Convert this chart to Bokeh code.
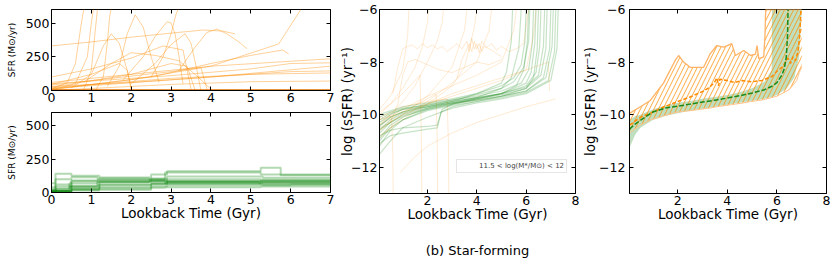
from bokeh.plotting import figure
from bokeh.layouts import row, column
from bokeh.models import Range1d, FixedTicker, LinearAxis, Legend, LegendItem
from bokeh.embed import file_html
from bokeh.resources import INLINE

FONT = "DejaVu Sans"
ORANGE = "#ff8c00"
GREEN = "#008000"

# ---------------- data ----------------
# top-left: SFR histories (orange sample), lookback time [Gyr] / SFR [Msun/yr]
sfr_orange_t = [
    [0.0, 1.0, 2.0, 3.0, 3.8, 4.3, 4.6],
    [3.2, 3.6, 3.9, 4.15, 4.4, 4.7, 4.9],
    [0.0, 0.4, 0.6, 0.75, 0.82],
    [0.0, 0.6, 0.9, 1.0, 1.06],
    [0.8, 1.0, 1.1, 1.16],
    [1.1, 1.3, 1.4, 1.46, 1.5],
    [0.5, 1.0, 1.3, 1.5, 1.7, 1.9, 2.0],
    [1.4, 1.7, 1.9, 2.1, 2.3, 2.5, 2.7],
    [1.8, 2.3, 2.6, 2.9, 3.0, 3.1, 3.2, 3.3],
    [2.5, 2.8, 3.0, 3.12, 3.2],
    [2.0, 2.6, 3.0, 3.35, 3.5, 3.65, 3.75],
    [0.8, 1.5, 2.0, 2.6, 3.2, 3.6, 4.0],
    [0.0, 2.0, 4.0, 6.0, 7.0],
    [0.0, 2.0, 4.0, 5.7, 6.3],
    [0.0, 3.0, 5.0, 6.0, 7.0],
    [0.0, 1.5, 3.0, 3.75, 3.9],
    [0.0, 2.5, 4.0, 5.0, 5.8, 5.95],
    [0.0, 3.0, 5.0, 7.0],
    [0.0, 1.0, 2.0, 2.8, 3.3, 3.5],
    [0.0, 1.0, 2.0, 3.0, 4.0, 5.0, 6.0, 7.0],
    [0.0, 2.0, 4.0, 7.0],
    [0.0, 1.0, 1.7, 1.9, 2.0],
    [0.0, 2.0, 3.0, 3.4, 3.6],
    [0.0, 4.0, 7.0],
]
sfr_orange_v = [
    [330, 360, 395, 425, 448, 440, 420],
    [150, 320, 430, 455, 420, 360, 310],
    [10, 60, 200, 500, 620],
    [5, 50, 250, 500, 620],
    [0, 150, 450, 620],
    [0, 100, 350, 550, 620],
    [20, 120, 330, 420, 350, 150, 20],
    [30, 180, 420, 560, 470, 250, 60],
    [80, 250, 400, 510, 500, 420, 250, 50],
    [100, 250, 420, 560, 620],
    [50, 200, 340, 420, 350, 150, 0],
    [60, 200, 280, 260, 220, 120, 10],
    [30, 60, 100, 140, 145],
    [10, 80, 180, 345, 620],
    [50, 110, 160, 200, 205],
    [40, 90, 140, 170, 10],
    [5, 100, 200, 260, 300, 270],
    [20, 90, 120, 130],
    [100, 160, 240, 330, 300, 10],
    [0, 15, 30, 45, 55, 65, 68, 70],
    [60, 120, 180, 235],
    [45, 120, 200, 150, 5],
    [25, 120, 200, 180, 5],
    [15, 100, 180],
]
sfr_floor_t = [0.0, 7.0]
sfr_floor_v = [2, 2]

# bottom-left: binned SFR histories (green sample)
sfr_green_edges = [
    [0, 0.1, 0.5, 1.2, 2.5, 2.9, 5.25, 5.75, 7],
    [0, 0.1, 0.5, 1.15, 2.45, 2.85, 5.25, 7],
    [0, 0.12, 0.5, 1.15, 2.5, 2.9, 5.3, 7],
    [0, 0.1, 0.45, 1.2, 2.5, 2.85, 5.25, 7],
    [0, 0.5, 1.2, 2.5, 2.9, 5.2, 7],
    [0, 0.1, 0.5, 1.15, 2.45, 2.9, 5.25, 7],
    [0, 0.45, 1.15, 2.45, 2.85, 5.25, 7],
    [0, 0.1, 0.5, 1.2, 2.5, 2.9, 5.3, 7],
    [0, 0.1, 0.5, 1.2, 2.5, 2.85, 5.25, 7],
    [0, 0.1, 0.45, 1.15, 2.5, 2.9, 5.25, 7],
    [0, 0.5, 1.2, 2.5, 2.9, 6.0, 7],
    [0, 0.1, 0.5, 1.15, 2.45, 2.85, 5.25, 7],
]
sfr_green_vals = [
    [70, 140, 125, 112, 135, 160, 185, 130],
    [20, 100, 115, 105, 100, 150, 135],
    [10, 30, 90, 95, 105, 120, 110],
    [5, 15, 40, 80, 90, 85, 90],
    [10, 30, 60, 70, 75, 70],
    [15, 45, 85, 90, 95, 85, 80],
    [25, 70, 75, 85, 70, 75],
    [5, 10, 25, 30, 60, 65, 60],
    [2, 8, 15, 20, 35, 40, 45],
    [40, 60, 50, 55, 65, 100, 95],
    [10, 20, 40, 45, 55, 60],
    [8, 12, 45, 80, 85, 80, 85],
]

# middle: log sSFR tracks
ssfr_green_t = [
    [0.06, 0.5, 1, 2, 3, 4, 5, 5.5, 5.8, 5.95, 6.0],
    [0.06, 0.5, 1, 2, 3, 4, 5, 5.8, 6.1, 6.25, 6.3],
    [0.06, 0.5, 1, 2, 3, 4, 5, 6, 6.4, 6.55, 6.6],
    [0.06, 0.5, 1, 2, 3, 4, 5, 6, 6.6, 6.8, 6.85],
    [0.06, 0.5, 1, 2, 3, 4, 5, 6, 6.8, 7.05, 7.1],
    [0.06, 0.5, 1, 2, 3, 4, 5, 6, 7.0, 7.25, 7.3],
    [0.06, 0.5, 1, 2, 2.4, 2.6, 3, 4, 5, 5.6, 5.9, 6.05, 6.1],
    [0.06, 0.5, 1, 2, 3, 4, 5, 6, 6.5, 6.7, 6.75],
    [0.06, 0.5, 1, 2, 3, 4, 5, 5.5, 5.9, 6.1, 6.15],
    [0.06, 0.5, 1, 2, 3, 4, 5, 6, 6.9, 7.15, 7.2],
    [0.06, 0.5, 1, 2, 3, 4, 5, 5.4, 5.7, 5.8],
    [0.06, 0.5, 1, 2, 2.4, 2.55, 3, 4, 5, 6, 6.3, 6.45, 6.5],
    [0.06, 0.5, 1, 2, 3, 4, 5, 5.2, 5.4, 5.45],
    [0.06, 0.5, 1, 2, 3, 4, 5, 6, 6.7, 6.95, 7.0],
    [0.06, 0.5, 1, 2, 3, 4, 5, 6, 6.2, 6.35, 6.4],
]
ssfr_green_v = [
    [-10.0, -9.85, -9.7, -9.55, -9.4, -9.2, -8.9, -8.6, -8.1, -7.2, -6],
    [-10.3, -10.0, -9.8, -9.6, -9.45, -9.3, -9.1, -8.8, -8.3, -7.3, -6],
    [-10.6, -10.2, -9.95, -9.7, -9.5, -9.35, -9.2, -8.9, -8.4, -7.4, -6],
    [-10.9, -10.4, -10.1, -9.75, -9.55, -9.4, -9.25, -9.0, -8.5, -7.5, -6],
    [-11.2, -10.6, -10.2, -9.8, -9.6, -9.45, -9.3, -9.1, -8.6, -7.4, -6],
    [-11.5, -11.0, -10.5, -10.1, -9.75, -9.55, -9.4, -9.2, -8.7, -7.5, -6],
    [-10.8, -10.6, -10.5, -10.45, -10.4, -9.8, -9.6, -9.4, -9.2, -8.9, -8.3, -7.2, -6],
    [-10.1, -9.9, -9.75, -9.65, -9.5, -9.35, -9.2, -8.95, -8.5, -7.4, -6],
    [-10.45, -10.1, -9.9, -9.65, -9.45, -9.25, -9.0, -8.75, -8.2, -7.2, -6],
    [-11.0, -10.5, -10.2, -9.85, -9.65, -9.5, -9.35, -9.15, -8.7, -7.6, -6],
    [-10.2, -9.95, -9.8, -9.7, -9.55, -9.35, -9.0, -8.6, -7.5, -6],
    [-11.1, -10.8, -10.7, -10.55, -10.5, -9.9, -9.7, -9.5, -9.3, -9.0, -8.6, -7.5, -6],
    [-10.4, -10.1, -9.9, -9.7, -9.5, -9.2, -8.8, -8.4, -7.2, -6],
    [-10.7, -10.3, -10.0, -9.75, -9.55, -9.45, -9.3, -9.1, -8.6, -7.5, -6],
    [-10.55, -10.3, -10.05, -9.8, -9.6, -9.4, -9.2, -8.8, -8.4, -7.3, -6],
]
ssfr_orange_t = [
    [0.6, 0.8, 1.0, 1.2, 1.4, 1.6, 1.8, 2.0, 2.2, 2.4, 2.6, 2.8, 3.0, 3.2, 3.4, 3.6, 3.7,
     3.8, 3.9, 4.0, 4.1, 4.2, 4.4, 4.6, 4.8, 5.0, 5.3, 5.6, 5.9, 6.1],
    [3.2, 3.4, 3.6, 3.7, 3.8, 3.9, 4.0, 4.1, 4.2, 4.3, 4.5, 4.7, 5.0],
    [0.06, 0.5, 1.0, 1.5, 2.0, 2.4, 2.6, 2.65],
    [0.06, 0.5, 1.0, 1.5, 1.8, 2.0, 2.05],
    [0.06, 0.5, 1, 2, 3, 3.5, 3.6],
    [0.06, 1, 2, 3, 3.5, 3.9, 4.0],
    [0.06, 1, 2, 3, 4, 5, 5.5, 5.6],
    [0.06, 1, 2, 3, 4, 5, 6, 6.3, 6.4],
    [0.9, 1.5, 2, 3, 4, 5, 6, 7.2],
    [0.06, 0.4, 0.55, 0.6, 0.62],
    [0.06, 0.5, 1, 1.5, 1.7, 1.75, 1.78],
    [0.06, 1, 2, 2.35, 2.4, 2.42],
    [0.06, 1, 2, 2.8, 2.85, 2.87],
    [0.06, 1, 2, 3, 4, 5, 6, 6.9, 6.95],
    [0.06, 0.5, 1, 1.2, 1.25],
    [0.06, 0.5, 0.8, 1.0, 1.2, 1.5, 2.0, 2.5, 3, 3.5, 4, 4.5, 5],
    [0.06, 0.5, 1, 2, 3, 4, 4.5, 4.6],
]
ssfr_orange_v = [
    [-9.2, -8.2, -7.5, -7.4, -7.35, -7.5, -7.3, -7.45, -7.35, -7.5, -7.4, -7.6, -7.45, -7.3,
     -7.5, -7.2, -7.6, -7.1, -7.5, -7.3, -7.65, -7.2, -7.45, -7.3, -7.55, -7.4, -7.6, -7.5, -7.3, -6],
    [-8.6, -7.9, -7.5, -7.3, -7.6, -7.2, -7.5, -7.3, -7.6, -7.4, -7.5, -7.6, -7.8],
    [-10.4, -10.0, -9.5, -8.9, -8.0, -7.2, -6.5, -6],
    [-10.0, -9.6, -9.0, -8.2, -7.4, -6.5, -6],
    [-10.6, -10.3, -10.0, -9.3, -8.2, -6.8, -6],
    [-10.8, -10.2, -9.6, -8.9, -8.2, -6.7, -6],
    [-10.3, -9.8, -9.3, -8.9, -8.5, -8.0, -6.8, -6],
    [-10.2, -9.9, -9.6, -9.3, -9.0, -8.7, -8.3, -7, -6],
    [-12.2, -11.6, -11.2, -10.7, -10.3, -10.0, -9.7, -9.4],
    [-10.2, -10.0, -10.1, -11.5, -13.5],
    [-9.9, -9.6, -9.2, -8.7, -8.5, -10.5, -13.5],
    [-10.4, -9.9, -9.4, -9.2, -11, -13.5],
    [-10.1, -9.7, -9.5, -9.4, -11, -13.5],
    [-10.5, -10.0, -9.6, -9.2, -8.9, -8.6, -8.3, -8.0, -9.1],
    [-9.8, -9.3, -8.3, -7.0, -6],
    [-10.6, -10.3, -9.6, -8.5, -8.0, -7.9, -8.1, -8.3, -8.4, -8.2, -8.0, -8.1, -7.9],
    [-10.9, -10.5, -10.1, -9.5, -8.8, -8.0, -6.8, -6],
]
legend_label = "11.5 < log(M*/M\u2299) < 12"

# right: median tracks and spreads
orange_band_t = [0.06, 0.5, 0.9, 1.43, 1.9, 2.04, 2.24, 2.5, 3.05, 3.3, 3.58, 3.86, 4.18, 4.33,
                 4.67, 4.94, 5.14, 5.2, 5.27, 5.47, 5.52, 5.55, 6.0, 6.5, 6.8, 6.9, 7.0]
orange_band_hi = [-9.95, -9.7, -9.46, -8.8, -7.94, -7.75, -8.0, -8.2, -8.2, -7.7, -7.37, -7.43,
                  -7.3, -7.75, -7.56, -7.75, -7.7, -7.37, -7.87, -7.8, -7.0, -6.0, -6.0, -6.0,
                  -6.0, -6.0, -6.0]
orange_band_lo = [-10.7, -10.4, -10.2, -10.05, -9.92, -9.9, -9.87, -9.85, -9.78, -9.75, -9.7,
                  -9.66, -9.62, -9.6, -9.55, -9.5, -9.48, -9.47, -9.46, -9.43, -9.42, -9.41,
                  -9.3, -9.05, -8.7, -8.4, -8.2]
orange_med_t = [0.06, 0.5, 1.0, 1.43, 2.0, 2.5, 3.05, 3.3, 3.5, 3.58, 3.65, 3.7, 4.0, 4.3, 4.6,
                5.0, 5.4, 5.8, 6.0, 6.2, 6.35, 6.45, 6.55, 6.65, 6.75, 6.85, 6.92, 6.97]
orange_med_v = [-10.4, -10.1, -9.9, -9.71, -9.5, -9.33, -9.1, -8.95, -8.75, -8.6, -8.9, -8.65,
                -8.7, -8.78, -8.7, -8.75, -8.7, -8.55, -8.35, -8.2, -8.0, -7.85, -8.05, -7.8,
                -7.95, -7.6, -7.0, -6.0]
green_band_t = [0.06, 0.3, 0.5, 0.75, 1.0, 1.5, 2.0, 2.5, 3.0, 3.5, 4.0, 4.5, 5.0, 5.5, 5.79,
                5.8, 6.0, 6.4, 6.7, 6.9, 7.0]
green_band_lo = [-11.25, -10.75, -10.5, -10.35, -10.2, -10.05, -9.95, -9.85, -9.78, -9.7, -9.62,
                 -9.55, -9.47, -9.4, -9.33, -9.33, -9.25, -9.0, -8.6, -7.8, -6.0]
green_band_hi = [-10.2, -10.05, -10.0, -9.9, -9.8, -9.65, -9.55, -9.48, -9.4, -9.33, -9.25,
                 -9.15, -9.0, -8.75, -8.3, -6.0, -6.0, -6.0, -6.0, -6.0, -6.0]
green_med_t = [0.06, 0.3, 0.6, 1.0, 1.5, 2.0, 2.5, 3.0, 3.5, 4.0, 4.5, 5.0, 5.5, 5.8, 6.0, 6.2,
               6.3, 6.38, 6.43, 6.45]
green_med_v = [-10.55, -10.35, -10.15, -9.9, -9.75, -9.68, -9.6, -9.52, -9.45, -9.37, -9.28,
               -9.18, -9.05, -8.92, -8.78, -8.5, -8.25, -7.8, -7.0, -6.0]

sfr_xticks = [0, 1, 2, 3, 4, 5, 6, 7]
sfr_yticks = [0, 250, 500]
ssfr_xticks = [2, 4, 6, 8]
ssfr_yticks = [-12, -10, -8, -6]
ssfr_ylabels = {-12: "\u221212", -10: "\u221210", -8: "\u22128", -6: "\u22126"}
caption = "(b) Star-forming"


# ---------------- helpers ----------------
def base_fig(xr, yr, fw, fh, bl, br, bt, bb):
    p = figure(x_range=Range1d(*xr), y_range=Range1d(*yr), frame_width=fw, frame_height=fh,
               min_border_left=bl, min_border_right=br, min_border_top=bt, min_border_bottom=bb,
               output_backend="svg", toolbar_location=None)
    p.xgrid.visible = False
    p.ygrid.visible = False
    p.outline_line_color = "black"
    p.outline_line_width = 1
    p.background_fill_color = "white"
    p.border_fill_color = "white"
    return p


def style_axis(ax, size="12.5px"):
    ax.major_tick_in = 4
    ax.major_tick_out = 0
    ax.minor_tick_in = 0
    ax.minor_tick_out = 0
    ax.major_tick_line_color = "black"
    ax.axis_line_color = "black"
    ax.major_label_text_font = FONT
    ax.major_label_text_font_size = size
    ax.major_label_text_color = "black"
    ax.axis_label_text_font = FONT
    ax.axis_label_text_font_style = "normal"
    ax.axis_label_text_color = "black"


def decorate(p, xticks, yticks, xlabel, ylabel, ylabel_size, ytick_standoff, ylabel_standoff,
             yover=None):
    xa, ya = p.xaxis[0], p.yaxis[0]
    style_axis(xa)
    style_axis(ya)
    xa.ticker = FixedTicker(ticks=xticks)
    ya.ticker = FixedTicker(ticks=yticks)
    xa.major_label_standoff = 2
    ya.major_label_standoff = ytick_standoff
    if xlabel:
        xa.axis_label = xlabel
        xa.axis_label_text_font_size = "13.5px"
        xa.axis_label_standoff = -2
    ya.axis_label = ylabel
    ya.axis_label_text_font_size = ylabel_size
    ya.axis_label_standoff = ylabel_standoff
    if yover:
        ya.major_label_overrides = yover
    top = LinearAxis(ticker=FixedTicker(ticks=xticks))
    right = LinearAxis(ticker=FixedTicker(ticks=yticks))
    for ax in (top, right):
        style_axis(ax)
        ax.major_label_text_font_size = "1px"
        ax.major_label_text_color = None
        ax.major_label_standoff = 0
        ax.axis_line_color = None
    p.add_layout(top, "above")
    p.add_layout(right, "right")


# ---------------- panel 1 ----------------
p1 = base_fig((0, 7), (0, 600), 279, 81, 51, 4, 9, 19)
p1.multi_line(xs=sfr_orange_t, ys=sfr_orange_v, line_color=ORANGE, line_alpha=0.4, line_width=1)
p1.line(sfr_floor_t, sfr_floor_v, line_color="#e07000", line_width=2.2)
decorate(p1, sfr_xticks, sfr_yticks, None, "SFR (M\u2299/yr)", "9px", 2, 6)

# ---------------- panel 2 ----------------
p2 = base_fig((0, 7), (0, 600), 279, 80, 51, 4, 3, 36)
for e, v in zip(sfr_green_edges, sfr_green_vals):
    p2.step(e, v + [v[-1]], mode="after", line_color=GREEN, line_alpha=0.3, line_width=2)
decorate(p2, sfr_xticks, sfr_yticks, "Lookback Time (Gyr)", "SFR (M\u2299/yr)", "9px", 2, 6)

# ---------------- panel 3 ----------------
p3 = base_fig((0.06, 8), (-13, -6), 196, 184, 45, 4, 9, 66)
p3.multi_line(xs=ssfr_orange_t, ys=ssfr_orange_v, line_color=ORANGE, line_alpha=0.18, line_width=1)
p3.multi_line(xs=ssfr_green_t, ys=ssfr_green_v, line_color=GREEN, line_alpha=0.22, line_width=1.2)
decorate(p3, ssfr_xticks, ssfr_yticks, "Lookback Time (Gyr)", "log (sSFR) (yr\u207b\u00b9)",
         "13.5px", 2, -7, ssfr_ylabels)
lr = p3.line([], [], line_color="#999999", line_width=1)
leg = Legend(items=[LegendItem(label=legend_label, renderers=[lr])], location=(77, 20),
             label_text_font=FONT, label_text_font_size="7px", label_standoff=6,
             glyph_width=14, glyph_height=8, padding=2, spacing=0, margin=0,
             border_line_color="#cccccc", border_line_width=1, background_fill_alpha=1)
p3.add_layout(leg)
# caption below the middle panel, drawn as the label of a tick-less extra axis
cap_axis = LinearAxis(ticker=FixedTicker(ticks=[]), axis_label=caption)
cap_axis.axis_line_color = None
cap_axis.major_tick_line_color = None
cap_axis.minor_tick_line_color = None
cap_axis.major_label_text_font_size = "1px"
cap_axis.major_label_text_color = None
cap_axis.major_label_standoff = 0
cap_axis.axis_label_text_font = FONT
cap_axis.axis_label_text_font_size = "13px"
cap_axis.axis_label_text_font_style = "normal"
cap_axis.axis_label_text_color = "black"
cap_axis.axis_label_standoff = 18
p3.add_layout(cap_axis, "below")

# ---------------- panel 4 ----------------
p4 = base_fig((0.06, 8), (-13, -6), 197, 184, 47, 5, 9, 36)
p4.varea(x=green_band_t, y1=green_band_lo, y2=green_band_hi, fill_color=GREEN, fill_alpha=0.25)
p4.varea(x=orange_band_t, y1=orange_band_lo, y2=orange_band_hi, fill_alpha=0,
         hatch_pattern="/", hatch_color=ORANGE, hatch_alpha=0.75, hatch_weight=1, hatch_scale=9)
p4.line(orange_band_t, orange_band_hi, line_color="#ffb366", line_width=1.3)
p4.line(orange_band_t, orange_band_lo, line_color="#ffc38a", line_width=1)
p4.line(orange_med_t, orange_med_v, line_color=ORANGE, line_width=1.5, line_dash="4 2")
p4.line(green_med_t, green_med_v, line_color="#1a8a1a", line_width=1.5, line_dash="5 2")
decorate(p4, ssfr_xticks, ssfr_yticks, "Lookback Time (Gyr)", "log (sSFR) (yr\u207b\u00b9)",
         "13.5px", 4, -2, ssfr_ylabels)

layout = row(column(p1, p2), p3, p4)
open("out.html", "w").write(file_html(layout, INLINE))
